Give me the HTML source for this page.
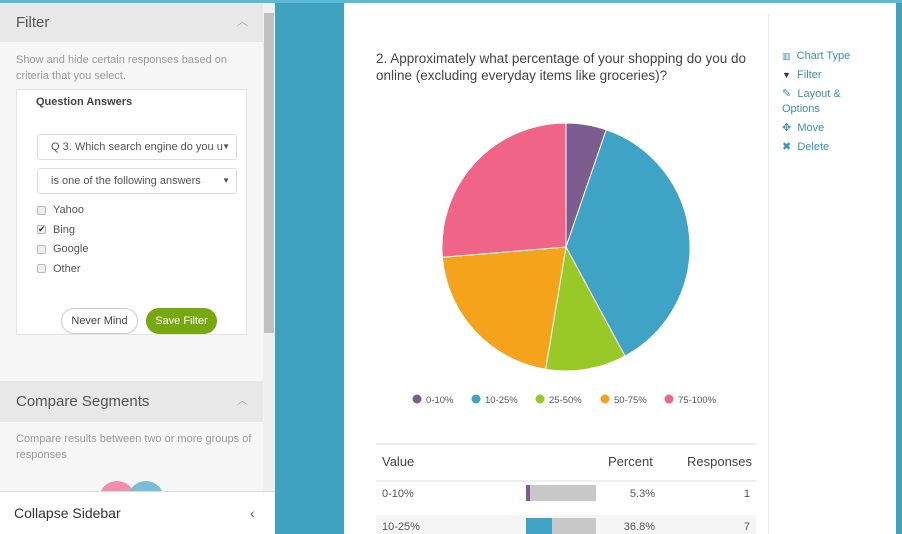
<!DOCTYPE html>
<html style="overflow:hidden;width:902px;height:534px"><head><meta charset="utf-8"><style>
*{box-sizing:border-box;margin:0;padding:0}
body{width:902px;height:534px;overflow:hidden;position:relative;background:#3fa3c0;font-family:"Liberation Sans",sans-serif;color:#555}
.a{position:absolute}
.topstrip{left:0;top:0;width:902px;height:3px;background:#5bbad6}
.side{left:0;top:3px;width:263px;height:531px;background:#f7f7f7}
.hdr{background:#e8e8e8;font-size:15px;color:#555;padding-left:16px}
.tb{font-size:11px;color:#999;line-height:16px}
.card{left:344px;top:3px;width:552px;height:531px;background:#fff}
.tool{font-size:11px;color:#3a8fb0;left:782px}
.cb{width:9px;height:9px;border:1px solid #bbb;background:#eee;border-radius:2px}
.opt{font-size:11px;color:#555}
.sel{border:1px solid #ddd;border-radius:3px;background:#fff;font-size:11px;color:#555;height:26px;line-height:24px;padding-left:13px}
</style></head><body>
<div class="a topstrip"></div>
<div class="a side"></div>
<div class="a hdr" style="left:0;top:3px;width:263px;height:39px;line-height:39px">Filter<span class="a" style="left:237px;top:0;font-size:11px;color:#aaa">︿</span></div>
<div class="a tb" style="left:16px;top:52px;width:240px">Show and hide certain responses based on criteria that you select.</div>
<div class="a" style="left:16px;top:89px;width:231px;height:246px;background:#fff;border:1px solid #e4e4e4"></div>
<div class="a" style="left:36px;top:96px;font-size:11px;font-weight:bold;color:#444">Question Answers</div>
<div class="a sel" style="left:37px;top:134px;width:200px">Q 3. Which search engine do you u<span class="a" style="right:6px;top:0;font-size:8px">▼</span></div>
<div class="a sel" style="left:37px;top:168px;width:200px">is one of the following answers<span class="a" style="right:6px;top:0;font-size:8px">▼</span></div>
<div class="a cb" style="left:37px;top:206px"></div><div class="a opt" style="left:53px;top:204px">Yahoo</div>
<div class="a cb" style="left:37px;top:225px;font-size:9px;line-height:7px;color:#333">✔</div><div class="a opt" style="left:53px;top:224px">Bing</div>
<div class="a cb" style="left:37px;top:245px"></div><div class="a opt" style="left:53px;top:243px">Google</div>
<div class="a cb" style="left:37px;top:264px"></div><div class="a opt" style="left:53px;top:263px">Other</div>
<div class="a" style="left:61px;top:308px;width:77px;height:26px;border:1px solid #ccc;border-radius:13px;background:#fff;font-size:11px;text-align:center;line-height:24px;color:#444">Never Mind</div>
<div class="a" style="left:146px;top:308px;width:71px;height:26px;border-radius:13px;background:#76a80f;font-size:11px;text-align:center;line-height:26px;color:#fff">Save Filter</div>
<div class="a hdr" style="left:0;top:381px;width:263px;height:41px;line-height:41px">Compare Segments<span class="a" style="left:237px;top:0;font-size:11px;color:#aaa">︿</span></div>
<div class="a tb" style="left:16px;top:431px;width:240px">Compare results between two or more groups of responses</div>
<div class="a" style="left:99px;top:481px;width:36px;height:36px;border-radius:50%;background:#f08fa8"></div>
<div class="a" style="left:128px;top:481px;width:36px;height:36px;border-radius:50%;background:#69b7d2;opacity:.9"></div>
<div class="a" style="left:263px;top:3px;width:12px;height:488px;background:#f0f0f0"><div class="a" style="left:1px;top:10px;width:10px;height:320px;background:#c1c1c1"></div></div>
<div class="a" style="left:0;top:491px;width:275px;height:43px;background:#fff;border-top:1px solid #ddd;font-size:14px;color:#333;line-height:42px;padding-left:14px">Collapse Sidebar<span class="a" style="left:250px;top:0;color:#555">‹</span></div>

<div class="a card"></div>
<div class="a" style="left:768px;top:14px;width:1px;height:520px;background:#e8e8e8"></div>
<div class="a" style="left:376px;top:50px;width:385px;font-size:13.5px;line-height:17px;color:#444">2. Approximately what percentage of your shopping do you do online (excluding everyday items like groceries)?</div>
<div class="a tool" style="top:50px"><span style="font-size:9px">▥</span>&nbsp; Chart Type</div>
<div class="a tool" style="top:69px"><span style="font-size:9px;color:#336">▼</span>&nbsp; Filter</div>
<div class="a tool" style="top:87px;line-height:15px">✎&nbsp; Layout &amp;<br>Options</div>
<div class="a tool" style="top:121px">✥&nbsp; Move</div>
<div class="a tool" style="top:140px">✖&nbsp; Delete</div>

<svg class="a" style="left:344px;top:100px" width="420" height="320" id="pie"></svg>
<div class="a" style="left:376px;top:443px;width:380px;height:91px;overflow:hidden" id="tbl">
<div class="a" style="left:0;top:0;width:380px;height:2px;background:#eee"></div>
<div class="a" style="left:6px;top:11px;font-size:13px;color:#444">Value</div>
<div class="a" style="left:232px;top:11px;font-size:13px;color:#444">Percent</div>
<div class="a" style="left:311px;top:11px;font-size:13px;color:#444">Responses</div>
<div class="a" style="left:0;top:37px;width:380px;height:2px;background:#eee"></div>
</div>
<script>
const categories=["0-10%","10-25%","25-50%","50-75%","75-100%"];
const responses=[1,7,2,4,5];
const colors=["#7d5c8f","#3fa3c5","#98c926","#f5a31a","#f06488"];
const svg=document.getElementById('pie');
const NS='http://www.w3.org/2000/svg';
const cx=222,cy=147,r=124;
const total=responses.reduce((a,b)=>a+b,0);
let ang=0;
responses.forEach((v,i)=>{
 const a0=ang,a1=ang+v/total*2*Math.PI;ang=a1;
 const x0=cx+r*Math.sin(a0),y0=cy-r*Math.cos(a0),x1=cx+r*Math.sin(a1),y1=cy-r*Math.cos(a1);
 const p=document.createElementNS(NS,'path');
 p.setAttribute('d',`M${cx},${cy}L${x0},${y0}A${r},${r} 0 ${a1-a0>Math.PI?1:0} 1 ${x1},${y1}Z`);
 p.setAttribute('fill',colors[i]);p.setAttribute('stroke','#fff');p.setAttribute('stroke-width','1');
 
 
 svg.appendChild(p);
});
const lx=[73,132,196,261,325];
categories.forEach((c,i)=>{
 const g=document.createElementNS(NS,'g');
 
 
 const ci=document.createElementNS(NS,'circle');
 ci.setAttribute('cx',lx[i]);ci.setAttribute('cy',299);ci.setAttribute('r',4.5);ci.setAttribute('fill',colors[i]);
 const t=document.createElementNS(NS,'text');
 t.setAttribute('x',lx[i]+9);t.setAttribute('y',303);t.setAttribute('font-size','9.5');t.setAttribute('fill','#555');t.setAttribute('font-family','Liberation Sans, sans-serif');
 t.textContent=c;g.appendChild(ci);g.appendChild(t);svg.appendChild(g);
});
const tbl=document.getElementById('tbl');
[0,1].forEach(i=>{
 const top=39+i*33;
 const row=document.createElement('div');
 row.className='a';row.style.cssText=`left:0;top:${top}px;width:380px;height:33px;background:${i%2?'#f5f5f5':'#fff'};font-size:11px;color:#555`;
 
 
 const pct=(responses[i]/total*100).toFixed(1)+'%';
 const w=70*responses[i]/total;
 row.innerHTML=`<div class="a" style="left:6px;top:6px">${categories[i]}</div><div class="a" style="left:150px;top:3px;width:70px;height:16px;background:#c8c8c8"><div style="width:${w}px;height:16px;background:${colors[i]}"></div></div><div class="a" style="right:101px;top:6px">${pct}</div><div class="a" style="right:6px;top:6px">${responses[i]}</div>`;
 tbl.appendChild(row);
});
</script>
</body></html>
